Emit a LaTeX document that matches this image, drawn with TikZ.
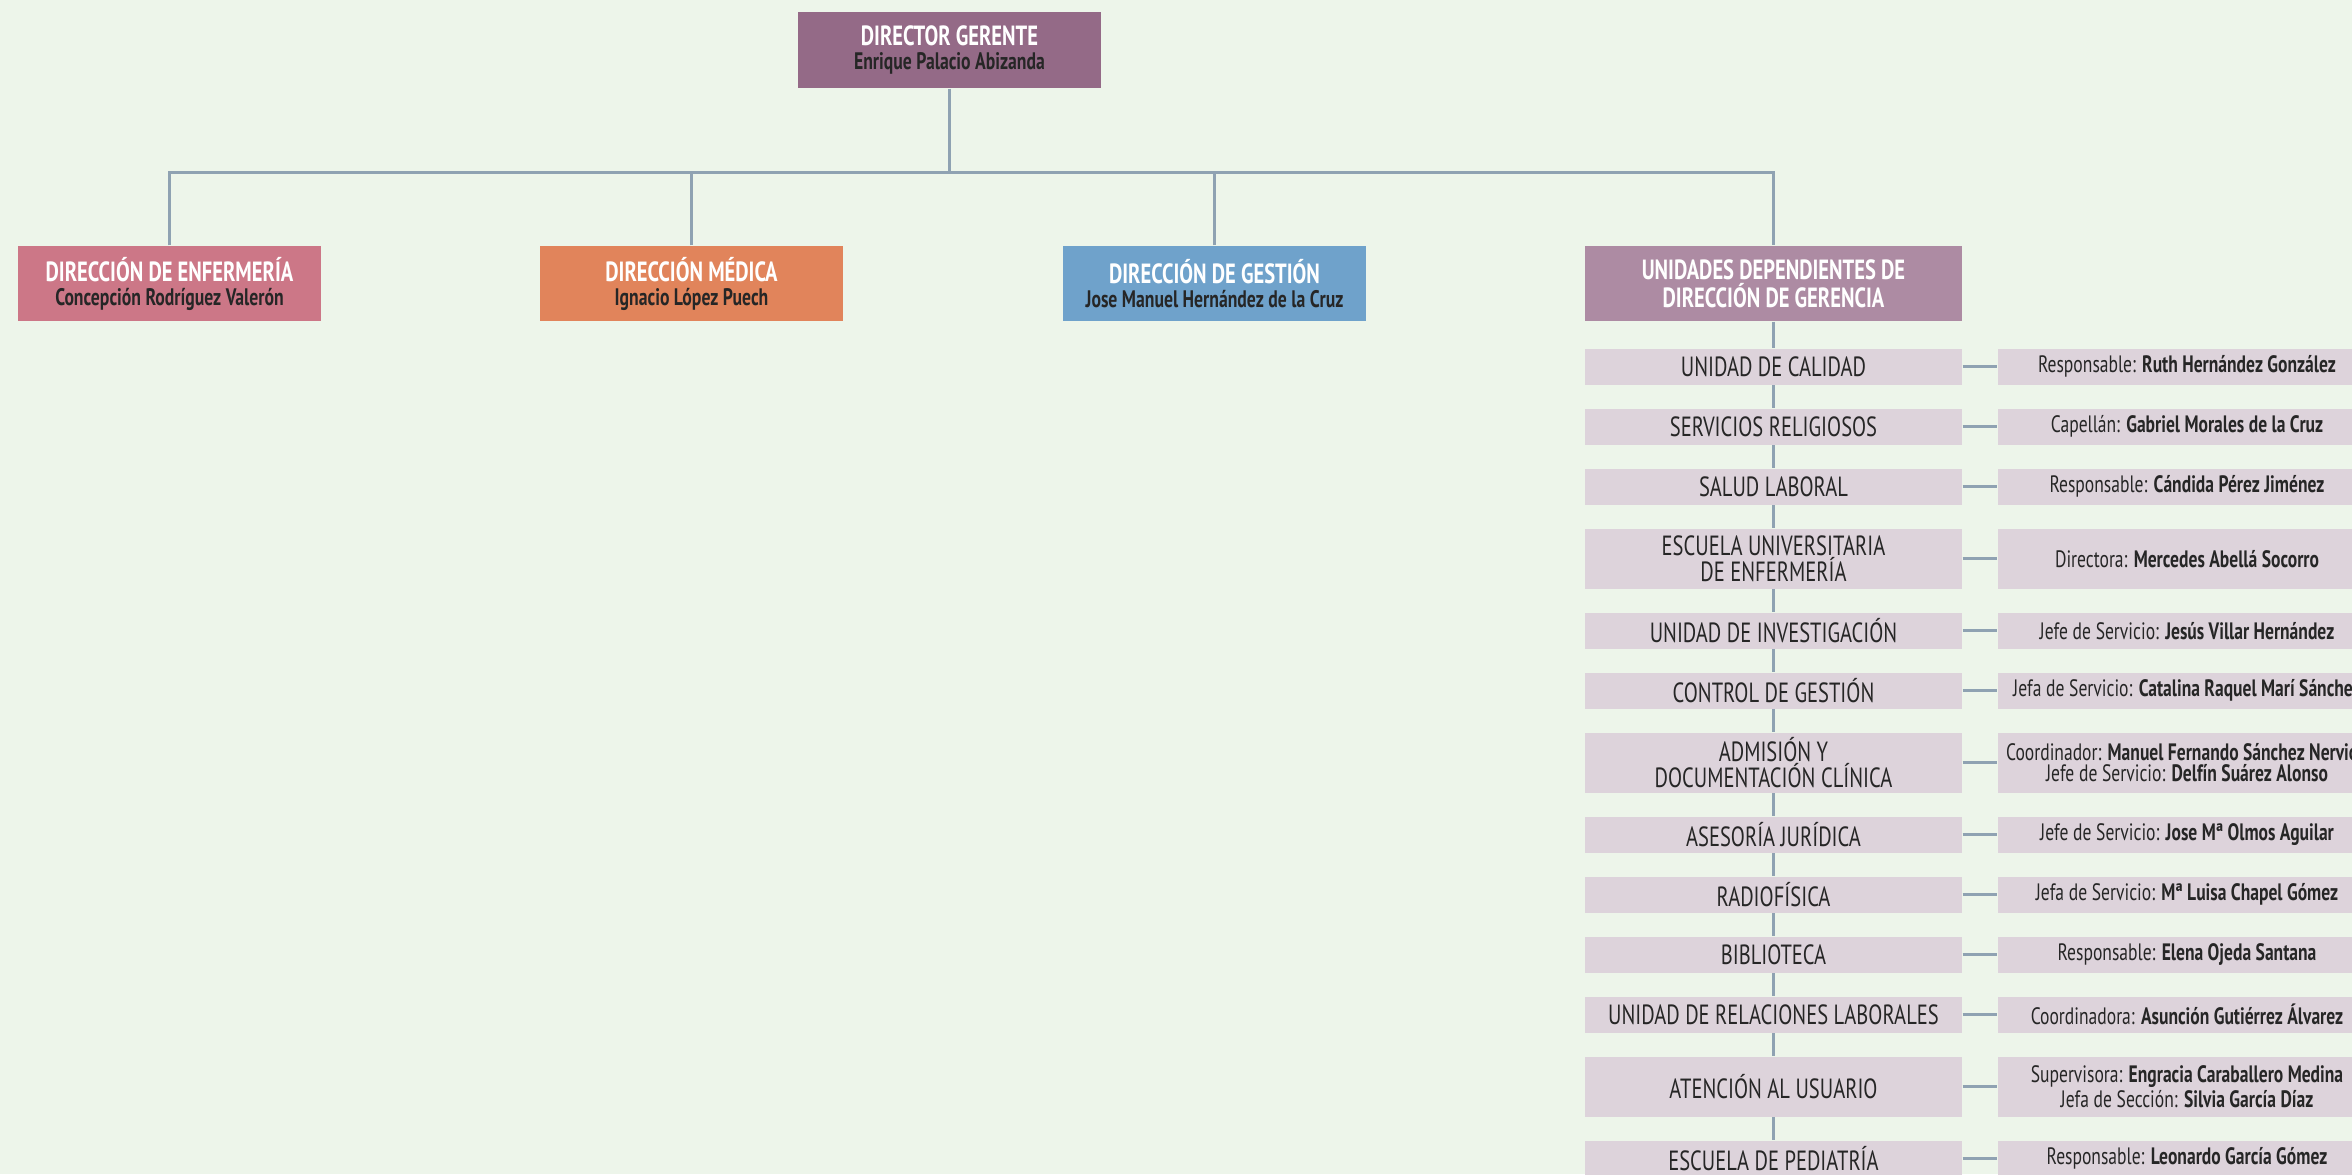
\documentclass[tikz,border=0pt]{standalone}
\usepackage{fontspec}
\setmainfont{PT Sans}[FakeStretch=0.74]
\definecolor{fondo}{HTML}{EDF5EA}
\definecolor{gerente}{HTML}{946A87}
\definecolor{enfermeria}{HTML}{CC7787}
\definecolor{medica}{HTML}{E1845B}
\definecolor{gestion}{HTML}{6FA2CB}
\definecolor{unidades}{HTML}{AD8BA3}
\definecolor{filagris}{HTML}{DDD3DB}
\definecolor{conector}{HTML}{8FA2B2}
\definecolor{textogris}{HTML}{262626}
\newcommand\titulo{\fontsize{7.9}{6.8}\selectfont\bfseries}
\newcommand\nombre[1]{{\color{textogris}\fontsize{6.8}{6.8}\selectfont #1}}
\newcommand\etiqueta{\fontsize{7.9}{7.5}\selectfont}
\newcommand\cargos{\fontsize{6.75}{6.1}\selectfont}

\begin{document}
\begin{tikzpicture}[
  linea/.style={draw=conector,line width=0.85pt},
  jefe/.style={minimum width=3.03cm,minimum height=0.75cm,inner sep=0pt,
    align=center,text=white,font=\titulo},
  fila/.style={fill=filagris,minimum width=3.77cm,inner sep=0pt,anchor=north,
    align=center,text=textogris,font=\etiqueta},
  cargo/.style={fill=filagris,minimum width=3.78cm,inner sep=0pt,anchor=north,
    align=center,text=textogris,font=\cargos},
]
\useasboundingbox (0,0) rectangle (23.52,-11.74);
\clip (0,0) rectangle (23.52,-11.74);
\fill[fondo] (0,0) rectangle (23.52,-11.74);

% direccion
\node[jefe,fill=gerente,minimum height=0.76cm] (dg) at (9.495,-0.5)
  {DIRECTOR GERENTE\\\nombre{Enrique Palacio Abizanda}};
\node[jefe,fill=enfermeria] (enf) at (1.695,-2.835)
  {DIRECCIÓN DE ENFERMERÍA\\\nombre{Concepción Rodríguez Valerón}};
\node[jefe,fill=medica] (med) at (6.915,-2.835)
  {DIRECCIÓN MÉDICA\\\nombre{Ignacio López Puech}};
\node[jefe,fill=gestion] (ges) at (12.145,-2.835)
  {DIRECCIÓN DE GESTIÓN\\\nombre{Jose Manuel Hernández de la Cruz}};
\node[jefe,fill=unidades,minimum width=3.77cm] (u0) at (17.735,-2.835)
  {UNIDADES DEPENDIENTES DE\\DIRECCIÓN DE GERENCIA};

\coordinate (barra) at (9.495,-1.72);
\draw[linea] (dg) -- (dg |- barra);
\draw[linea] (enf) |- (barra) -| (u0);
\draw[linea] (med) -- (med |- barra);
\draw[linea] (ges) -- (ges |- barra);

% unidades dependientes
\foreach \y/\h/\nom/\resp [count=\i, remember=\i as \lasti (initially 0)] in {
  3.48/0.36/{UNIDAD DE CALIDAD}/{Responsable: \textbf{Ruth Hernández González}},
  4.08/0.36/{SERVICIOS RELIGIOSOS}/{Capellán: \textbf{Gabriel Morales de la Cruz}},
  4.68/0.36/{SALUD LABORAL}/{Responsable: \textbf{Cándida Pérez Jiménez}},
  5.28/0.60/{ESCUELA UNIVERSITARIA\\DE ENFERMERÍA}/{Directora: \textbf{Mercedes Abellá Socorro}},
  6.12/0.36/{UNIDAD DE INVESTIGACIÓN}/{Jefe de Servicio: \textbf{Jesús Villar Hernández}},
  6.72/0.36/{CONTROL DE GESTIÓN}/{Jefa de Servicio: \textbf{Catalina Raquel Marí Sánchez}},
  7.32/0.60/{ADMISIÓN Y\\DOCUMENTACIÓN CLÍNICA}/{Coordinador: \textbf{Manuel Fernando Sánchez Nervión}\\Jefe de Servicio: \textbf{Delfín Suárez Alonso}},
  8.16/0.36/{ASESORÍA JURÍDICA}/{Jefe de Servicio: \textbf{Jose Mª Olmos Aguilar}},
  8.76/0.36/{RADIOFÍSICA}/{Jefa de Servicio: \textbf{Mª Luisa Chapel Gómez}},
  9.36/0.36/{BIBLIOTECA}/{Responsable: \textbf{Elena Ojeda Santana}},
  9.96/0.36/{UNIDAD DE RELACIONES LABORALES}/{Coordinadora: \textbf{Asunción Gutiérrez Álvarez}},
  10.56/0.60/{ATENCIÓN AL USUARIO}/{Supervisora: \textbf{Engracia Caraballero Medina}\\Jefa de Sección: \textbf{Silvia García Díaz}},
  11.40/0.36/{ESCUELA DE PEDIATRÍA}/{Responsable: \textbf{Leonardo García Gómez}}}
{
  \node[fila,minimum height=\h cm] (u\i) at (17.735,-\y) {\nom};
  \node[cargo,minimum height=\h cm] (r\i) at (21.87,-\y) {\resp};
  \draw[linea] (u\lasti) -- (u\i);
  \draw[linea] (u\i) -- (r\i);
}
\end{tikzpicture}
\end{document}
